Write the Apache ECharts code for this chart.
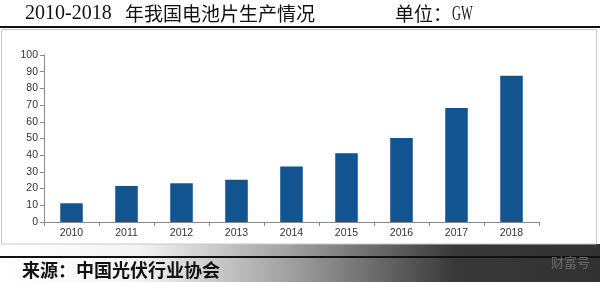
<!DOCTYPE html>
<html>
<head>
<meta charset="utf-8">
<script src="https://cdn.jsdelivr.net/npm/echarts@6/dist/echarts.min.js"></script>
<style>html,body{margin:0;padding:0;background:#fff;}#c{width:600px;height:282px;}</style>
</head>
<body>
<div id="c"></div>
<script>
const years = ['2010','2011','2012','2013','2014','2015','2016','2017','2018'];
const production = [11.2, 21.6, 23.2, 25.3, 33.3, 41.1, 50.3, 68.3, 87.6];
const titleYears = '2010-2018';
const titleText = '年我国电池片生产情况';
const unitText = '单位：';
const unitValue = 'GW';
const sourceText = '来源：中国光伏行业协会';
const watermark = '财富号';

const chart = echarts.init(document.getElementById('c'), null, {renderer: 'canvas'});
const serif = "'Liberation Serif','Noto Sans CJK SC',serif";
const cjk = "'Noto Sans CJK SC',sans-serif";
chart.setOption({
  animation: false,
  backgroundColor: '#fff',
  grid: {left: 44, right: 61, top: 55, bottom: 60},
  xAxis: {
    type: 'category',
    data: years,
    axisLine: {lineStyle: {color: '#8a8a8a', width: 1}},
    axisTick: {show: true, length: 4, lineStyle: {color: '#8a8a8a'}},
    axisLabel: {color: '#333', fontSize: 10.5, fontFamily: "'Liberation Sans',Arial,sans-serif", margin: 6}
  },
  yAxis: {
    type: 'value',
    min: 0, max: 100, interval: 10,
    splitLine: {show: false},
    axisLine: {show: true, lineStyle: {color: '#8a8a8a', width: 1}},
    axisTick: {show: true, length: 4, lineStyle: {color: '#8a8a8a'}},
    axisLabel: {color: '#333', fontSize: 10.5, fontFamily: "'Liberation Sans',Arial,sans-serif", margin: 6}
  },
  series: [{
    type: 'bar',
    data: production,
    barWidth: '41%',
    itemStyle: {color: '#115490'}
  }],
  graphic: [
    {type: 'rect', z: -20, shape: {x: 0, y: 244, width: 600, height: 38},
     style: {fill: {type: 'linear', x: 0, y: 0, x2: 1, y2: 0,
       colorStops: [{offset: 0, color: '#ffffff'}, {offset: 0.23, color: '#f4f4f4'}, {offset: 0.5, color: '#9a9a9a'}, {offset: 0.76, color: '#383838'}, {offset: 1, color: '#323232'}]}}},
    {type: 'rect', z: -10, shape: {x: 1.5, y: 29.5, width: 595, height: 214.5},
     style: {fill: '#fff', stroke: '#c8c8c8', lineWidth: 1}},
    {type: 'rect', z: -5, shape: {x: 0, y: 26, width: 600, height: 2}, style: {fill: '#111'}},
    {type: 'rect', z: -5, shape: {x: 0, y: 256, width: 600, height: 2}, style: {fill: '#111'}},
    {type: 'text', z: 10, left: 25, top: 4,
     style: {text: titleYears, font: "20px " + serif, fill: '#111'}},
    {type: 'text', z: 10, left: 125, top: 4,
     style: {text: titleText, font: "19px " + cjk, fill: '#111'}},
    {type: 'text', z: 10, left: 395, top: 4,
     style: {text: unitText, font: "19px " + cjk, fill: '#111'}},
    {type: 'text', z: 10, x: 452, y: 5, scaleX: 0.62,
     style: {text: unitValue, font: "20px " + serif, fill: '#111'}},
    {type: 'text', z: 10, left: 22, top: 261,
     style: {text: sourceText, font: "bold 18px " + cjk, fill: '#111'}},
    {type: 'text', z: 10, left: 551, top: 256,
     style: {text: watermark, font: "13px " + cjk, fill: '#6a6a6a'}}
  ]
});
</script>
</body>
</html>
